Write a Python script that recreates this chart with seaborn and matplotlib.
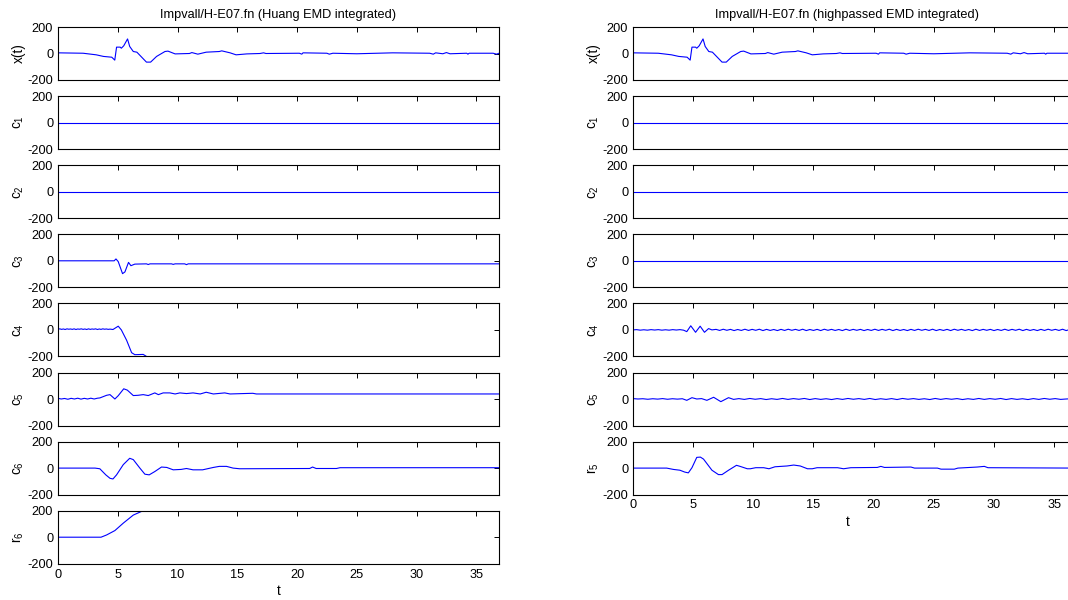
import numpy as np
import matplotlib
matplotlib.use('Agg')
import matplotlib.pyplot as plt
import seaborn as sns

sns.set_theme(style='white')
plt.rcParams['font.family'] = ['Liberation Sans', 'DejaVu Sans']
plt.rcParams['mathtext.fontset'] = 'custom'
plt.rcParams['mathtext.rm'] = 'Liberation Sans'
plt.rcParams['axes.unicode_minus'] = False

# ---------------- text ----------------
title_left = 'Impvall/H-E07.fn (Huang EMD integrated)'
title_right = 'Impvall/H-E07.fn (highpassed EMD integrated)'
labels_left = ['x(t)', r'$\mathregular{c_1}$', r'$\mathregular{c_2}$', r'$\mathregular{c_3}$',
               r'$\mathregular{c_4}$', r'$\mathregular{c_5}$', r'$\mathregular{c_6}$', r'$\mathregular{r_6}$']
labels_right = ['x(t)', r'$\mathregular{c_1}$', r'$\mathregular{c_2}$', r'$\mathregular{c_3}$',
                r'$\mathregular{c_4}$', r'$\mathregular{c_5}$', r'$\mathregular{r_5}$']
x_label = 't'
y_ticks = [-200, 0, 200]
x_ticks = [0, 5, 10, 15, 20, 25, 30, 35]
t_max = 36.9

# ---------------- data ----------------
# x(t) (same signal in both columns)
xt_t = [0, 2.1, 3.2, 3.8, 4.5, 4.75, 4.9, 5.2, 5.3, 5.5, 5.82, 6.0, 6.3, 6.6, 7.4, 7.75, 8.25, 8.95,
        9.2, 9.8, 11.0, 11.2, 11.7, 12.4, 13.5, 13.7, 14.4, 14.9, 15.8, 16.9, 17.2, 17.4, 20.2, 20.4,
        20.5, 22.5, 22.7, 23.0, 25.0, 28.0, 31.1, 31.4, 31.6, 32.2, 32.5, 32.8, 34.2, 34.3, 34.4,
        36.4, 36.7, 36.9]
xt_v = [5, 2, -10, -22, -28, -50, 48, 48, 40, 58, 110, 53, 15, 10, -65, -65, -22, 15,
        18, -3, 0, 7, -5, 10, 15, 20, 5, -10, -3, 0, 5, 0, 2, -5,
        5, 2, -5, 2, -2, 5, 2, -5, 5, -2, 7, -2, 2, -5, 2,
        2, -5, 2]

zero_t = [0, 36.9]
zero_v = [0, 0]

# left column
c3L_t = [0, 4.7, 4.85, 5.04, 5.4, 5.6, 5.9, 6.1, 6.43, 7.4, 7.55, 7.7, 9.5, 9.64, 9.8,
         10.6, 10.75, 10.9, 36.9]
c3L_v = [0, 0, 14, -6, -97, -84, -12, -37, -25, -23, -28, -23, -23, -27, -23,
         -23, -29, -23, -23]

c4L_pre = [5, 8, 4, 7, 3, 8, 5, 7, 4, 8, 3, 7, 5, 8, 4, 7, 3, 8, 4, 7, 5, 8, 3, 7, 4, 8, 5, 7, 4, 6]
c4L_t = [4.6, 5.04, 5.3, 5.74, 6.16, 6.43, 7.13, 7.4, 7.7, 9.0, 36.9]
c4L_v = [3, 28, 0, -78, -172, -187, -185, -200, -230, -300, -400]

c5L_pre = [5, 0, 4, -2, 5, 0, 6, -1, 5, 0, 6, 0, 6]
c5L_t = [3.5, 4.07, 4.35, 4.76, 5.04, 5.5, 5.8, 6.3, 6.7, 7.13, 7.55, 8.1, 8.4, 8.8, 9.36, 9.8,
         10.2, 10.75, 11.3, 11.9, 12.4, 13.0, 13.95, 14.4, 15.5, 16.3, 16.6, 36.9]
c5L_v = [8, 28, 33, 0, 25, 77, 67, 26, 28, 33, 26, 46, 33, 46, 46, 38,
         46, 41, 46, 38, 51, 38, 46, 38, 41, 43, 38, 38]

c6L_t = [0, 3.1, 3.5, 4.0, 4.35, 4.6, 4.9, 5.46, 6.0, 6.3, 6.85, 7.27, 7.63, 8.1, 8.66, 9.1,
         9.64, 10.3, 10.75, 11.3, 12.1, 13.0, 13.5, 14.1, 14.65, 15.2, 21.06, 21.3, 21.6, 23.3,
         23.6, 36.9]
c6L_v = [0, 0, -5, -51, -77, -82, -51, 26, 74, 64, 0, -46, -51, -26, 8, 5,
         -13, -10, -3, -13, -13, 5, 13, 13, 0, -5, -3, 8, -3, -3,
         3, 3]

r6L_t = [0, 3.6, 4.07, 4.76, 5.46, 6.3, 7.0, 7.27, 8.0, 12.0, 36.9]
r6L_v = [0, 0, 17, 50, 106, 167, 195, 200, 250, 420, 900]

# right column
c4R_pre = [0, 2, -2, 1, -2, 2, -1, 2, -2, 1, -2, 2, -1, 2, -2]
c4R_t = [4.47, 4.8, 5.2, 5.58, 5.94, 6.28, 6.56]
c4R_v = [-13, 31, -18, 28, -18, 10, 0]
c4R_post = [4, -4, 5, -3, 4, -5, 3, -4, 5, -4, 4, -3, 5, -5, 4, -4, 3, -5, 4, -4,
            5, -3, 4, -4, 5, -5, 3, -4, 4, -5, 5, -3, 4, -4, 3, -5, 5, -4, 4, -3,
            4, -5, 3, -4, 5, -4, 4, -3, 5, -5, 4, -4, 3, -5, 4, -4, 5, -3, 4, -4,
            5, -5, 3, -4, 4, -5, 5, -3, 4, -4, 3, -5, 5, -4, 4, -3, 4, -5, 3, -4,
            5, -4, 4, -3, 5, -5, 4, -4, 3, -5, 4, -4, 5, -3, 4, -4, 5, -5, 3, -4, 0]

c5R_pre = [3, 0, 2, -2, 2, -1, 3, -2, 2, -1, 2]
c5R_t = [4.47, 4.9, 5.3, 5.7, 6.14, 6.7, 7.3, 7.94, 8.36]
c5R_v = [-10, 10, 0, 3, -10, 13, -20, 10, -3]
c5R_post = [3, -3, 4, -2, 3, -4, 2, -3, 4, -3, 3, -2, 4, -4, 3, -3, 2, -4, 3, -3,
            4, -2, 3, -3, 4, -4, 2, -3, 3, -4, 4, -2, 3, -3, 2, -4, 4, -3, 3, -2,
            3, -4, 2, -3, 4, -3, 3, -2, 4, -4, 3, -3, 2, -4, 3, -3, 4, -2, 3, -3, 0, 2, 0]

r5R_t = [0, 2.8, 3.36, 3.9, 4.3, 4.6, 4.9, 5.3, 5.6, 5.86, 6.56, 7.1, 7.4, 7.94, 8.6, 8.9,
         9.5, 9.75, 10.2, 10.86, 11.3, 11.8, 12.8, 13.36, 13.9, 14.5, 14.9, 15.3, 17.0, 17.5,
         18.1, 20.3, 20.6, 20.9, 23.1, 23.4, 25.3, 25.6, 26.7, 27.0, 28.6, 29.2, 29.5, 36.9]
r5R_v = [0, 0, -10, -16, -30, -36, 3, 81, 83, 68, -16, -49, -49, -16, 21, 13,
         -5, -5, 3, 3, -5, 10, 16, 23, 16, -5, -5, 3, 3, -5,
         3, 5, 13, 5, 8, 0, 0, -8, -8, 0, 8, 13, 3, 0]

# assemble series (time grids for the hand-read ripple sections)
c4L_T = np.concatenate([np.linspace(0, 4.35, len(c4L_pre)), c4L_t])
c4L_V = np.concatenate([c4L_pre, c4L_v])
c5L_T = np.concatenate([np.linspace(0, 3.3, len(c5L_pre)), c5L_t])
c5L_V = np.concatenate([c5L_pre, c5L_v])
c4R_T = np.concatenate([np.linspace(0, 4.2, len(c4R_pre)), c4R_t,
                        np.linspace(6.9, 36.9, len(c4R_post))])
c4R_V = np.concatenate([c4R_pre, c4R_v, c4R_post])
c5R_T = np.concatenate([np.linspace(0, 4.1, len(c5R_pre)), c5R_t,
                        np.linspace(8.8, 36.9, len(c5R_post))])
c5R_V = np.concatenate([c5R_pre, c5R_v, c5R_post])

left_series = [(xt_t, xt_v), (zero_t, zero_v), (zero_t, zero_v), (c3L_t, c3L_v),
               (c4L_T, c4L_V), (c5L_T, c5L_V), (c6L_t, c6L_v), (r6L_t, r6L_v)]
right_series = [(xt_t, xt_v), (zero_t, zero_v), (zero_t, zero_v), (zero_t, zero_v),
                (c4R_T, c4R_V), (c5R_T, c5R_V), (r5R_t, r5R_v)]

# ---------------- layout ----------------
W, H = 1068, 600
fig = plt.figure(figsize=(W / 100, H / 100), dpi=100)
fig.patch.set_facecolor('white')

row_top0 = 27
row_step = 69.1
row_h = 53
line_color = '#0000ff'
FS = 9.2


def make_col(left_px, width_px, series, labels, title, title_x):
    n = len(series)
    axes = []
    for i, ((t, v), lab) in enumerate(zip(series, labels)):
        top = row_top0 + row_step * i
        ax = fig.add_axes([left_px / W, 1 - (top + row_h) / H, width_px / W, row_h / H])
        sns.lineplot(x=np.asarray(t, float), y=np.asarray(v, float), ax=ax, color=line_color,
                     linewidth=0.8, estimator=None, sort=False)
        ax.set_xlim(0, t_max)
        ax.set_ylim(-200, 200)
        ax.set_yticks(y_ticks)
        ax.set_yticklabels([str(y) for y in y_ticks])
        ax.set_xticks(x_ticks)
        ax.tick_params(direction='in', top=True, right=True, length=3.5, width=0.7,
                       labelsize=FS, pad=3.5, colors='black')
        for s in ax.spines.values():
            s.set_visible(True)
            s.set_color('black')
            s.set_linewidth(0.8)
        ax.set_ylabel(lab, fontsize=FS + 0.6, labelpad=1, color='black')
        ax.set_facecolor('white')
        if i < n - 1:
            ax.set_xticklabels([])
            ax.set_xlabel('')
        else:
            ax.set_xticklabels([str(x) for x in x_ticks])
            ax.set_xlabel(x_label, fontsize=FS + 0.6, color='black')
            ax.xaxis.set_label_coords(title_x, -0.38)
        axes.append(ax)
    axes[0].set_title(title, fontsize=FS, pad=6.5, x=title_x, color='black')
    return axes


make_col(58, 441, left_series, labels_left, title_left, 0.5)
make_col(633, 444, right_series, labels_right, title_right, 0.483)

fig.savefig('out.png', dpi=100, facecolor='white')
